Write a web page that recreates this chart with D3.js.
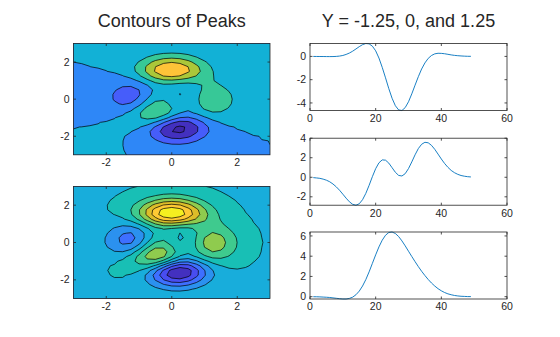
<!DOCTYPE html>
<html><head><meta charset="utf-8">
<script src="https://cdn.jsdelivr.net/npm/d3@7"></script>
<style>
html,body{margin:0;padding:0;background:#fff;}
svg{display:block;font-family:'Liberation Sans',Arial,sans-serif;}
</style></head>
<body><svg id="chart" width="560" height="337"></svg>
<script>
// ---- data: peaks surface sampled on a 25x25 grid (rows = y, cols = x) ----
const gridX = [-3,-2.75,-2.5,-2.25,-2,-1.75,-1.5,-1.25,-1,-0.75,-0.5,-0.25,0,0.25,0.5,0.75,1,1.25,1.5,1.75,2,2.25,2.5,2.75,3];
const gridY = [-3,-2.75,-2.5,-2.25,-2,-1.75,-1.5,-1.25,-1,-0.75,-0.5,-0.25,0,0.25,0.5,0.75,1,1.25,1.5,1.75,2,2.25,2.5,2.75,3];
const peaksZ = [
[6.7e-5,2.3e-4,6.8e-4,1.7e-3,3.4e-3,5.1e-3,4.2e-3,-5.0e-3,-3.0e-2,-7.5e-2,-0.14,-0.20,-0.24,-0.25,-0.22,-0.17,-0.11,-6.2e-2,-3.0e-2,-1.2e-2,-4.3e-3,-1.3e-3,-3.0e-4,-5.5e-5,-5.9e-6],
[1.6e-4,5.4e-4,1.6e-3,3.8e-3,7.4e-3,1.0e-2,4.5e-3,-2.4e-2,-9.6e-2,-0.22,-0.39,-0.56,-0.68,-0.69,-0.61,-0.46,-0.30,-0.17,-8.1e-2,-3.3e-2,-1.2e-2,-3.4e-3,-8.2e-4,-1.5e-4,-1.5e-5],
[3.2e-4,1.1e-3,3.2e-3,7.7e-3,1.5e-2,1.9e-2,2.8e-3,-6.7e-2,-0.23,-0.53,-0.92,-1.31,-1.57,-1.60,-1.41,-1.06,-0.69,-0.38,-0.18,-7.5e-2,-2.6e-2,-7.5e-3,-1.7e-3,-2.7e-4,-1.4e-5],
[5.5e-4,1.9e-3,5.8e-3,1.4e-2,2.7e-2,3.6e-2,7.4e-3,-0.12,-0.44,-0.99,-1.74,-2.51,-3.02,-3.10,-2.72,-2.05,-1.32,-0.73,-0.35,-0.14,-4.7e-2,-1.2e-2,-2.5e-3,-2.3e-4,6.6e-5],
[7.5e-4,2.8e-3,8.8e-3,2.3e-2,4.7e-2,7.0e-2,4.5e-2,-0.13,-0.59,-1.45,-2.64,-3.88,-4.76,-4.93,-4.35,-3.27,-2.10,-1.15,-0.53,-0.20,-6.2e-2,-1.3e-2,-1.2e-3,6.4e-4,4.2e-4],
[6.2e-4,2.9e-3,1.0e-2,3.0e-2,7.0e-2,0.13,0.15,2.3e-2,-0.46,-1.48,-3.00,-4.70,-5.97,-6.33,-5.64,-4.24,-2.69,-1.42,-0.61,-0.20,-4.4e-2,7.0e-4,6.3e-3,3.7e-3,1.4e-3],
[-4.5e-4,1.8e-4,5.3e-3,2.5e-2,7.9e-2,0.19,0.33,0.39,0.15,-0.68,-2.19,-4.08,-5.68,-6.33,-5.76,-4.32,-2.63,-1.27,-0.44,-6.6e-2,4.3e-2,4.5e-2,2.5e-2,1.1e-2,3.6e-3],
[-3.3e-3,-8.1e-3,-1.4e-2,-1.2e-2,3.0e-2,0.17,0.45,0.84,1.11,0.88,-0.14,-1.84,-3.60,-4.60,-4.40,-3.22,-1.74,-0.56,7.9e-2,0.27,0.23,0.13,6.1e-2,2.3e-2,7.4e-3],
[-8.8e-3,-2.4e-2,-5.6e-2,-0.10,-0.13,-4.3e-2,0.30,0.98,1.86,2.45,2.22,1.00,-0.72,-2.02,-2.22,-1.43,-0.27,0.58,0.88,0.77,0.50,0.26,0.11,4.2e-2,1.3e-2],
[-1.7e-2,-4.9e-2,-0.12,-0.25,-0.42,-0.51,-0.28,0.49,1.78,3.09,3.63,2.94,1.40,-4.8e-3,-0.41,0.20,1.18,1.79,1.78,1.35,0.82,0.41,0.18,6.4e-2,2.0e-2],
[-2.6e-2,-7.7e-2,-0.20,-0.44,-0.80,-1.16,-1.21,-0.60,0.80,2.49,3.55,3.30,2.00,0.70,0.39,1.14,2.20,2.76,2.56,1.87,1.12,0.56,0.24,8.6e-2,2.6e-2],
[-3.4e-2,-0.10,-0.27,-0.60,-1.14,-1.78,-2.16,-1.84,-0.57,1.23,2.56,2.63,1.58,0.53,0.48,1.50,2.76,3.37,3.09,2.25,1.34,0.67,0.28,0.10,3.1e-2],
[-3.7e-2,-0.11,-0.30,-0.69,-1.33,-2.14,-2.77,-2.71,-1.65,6.4e-2,1.48,1.75,0.98,0.19,0.37,1.57,2.94,3.58,3.27,2.37,1.41,0.70,0.30,0.11,3.3e-2],
[-3.5e-2,-0.11,-0.29,-0.67,-1.32,-2.16,-2.87,-2.98,-2.15,-0.65,0.68,1.06,0.52,-2.8e-2,0.28,1.47,2.76,3.36,3.06,2.22,1.32,0.66,0.28,1.0e-1,3.1e-2],
[-2.9e-2,-9.2e-2,-0.25,-0.57,-1.12,-1.85,-2.49,-2.64,-2.00,-0.76,0.39,0.80,0.46,9.0e-2,0.38,1.34,2.38,2.83,2.56,1.84,1.09,0.54,0.23,8.3e-2,2.6e-2],
[-2.2e-2,-6.7e-2,-0.18,-0.42,-0.82,-1.33,-1.76,-1.78,-1.16,-4.6e-2,1.04,1.55,1.42,1.12,1.17,1.65,2.17,2.32,1.99,1.40,0.82,0.40,0.17,6.1e-2,1.9e-2],
[-1.4e-2,-4.2e-2,-0.11,-0.25,-0.48,-0.74,-0.86,-0.60,0.23,1.51,2.79,3.59,3.69,3.34,2.93,2.66,2.43,2.08,1.58,1.04,0.58,0.28,0.11,4.1e-2,1.2e-2],
[-7.3e-3,-2.2e-2,-5.6e-2,-0.12,-0.20,-0.23,-4.7e-2,0.55,1.69,3.29,4.92,6.07,6.39,5.94,5.02,3.97,2.97,2.09,1.35,0.79,0.41,0.19,7.4e-2,2.5e-2,7.6e-3],
[-3.1e-3,-8.5e-3,-1.9e-2,-2.9e-2,-1.2e-2,0.11,0.48,1.27,2.61,4.37,6.20,7.54,8.00,7.48,6.25,4.72,3.25,2.05,1.19,0.62,0.29,0.12,4.6e-2,1.5e-2,4.4e-3],
[-8.6e-4,-1.6e-3,-4.4e-4,1.3e-2,7.0e-2,0.24,0.65,1.43,2.67,4.29,5.96,7.22,7.67,7.19,5.99,4.45,2.96,1.78,0.96,0.47,0.21,8.1e-2,2.8e-2,8.9e-3,2.5e-3],
[1.5e-5,8.4e-4,5.3e-3,2.3e-2,8.0e-2,0.23,0.55,1.16,2.10,3.31,4.56,5.51,5.86,5.50,4.57,3.37,2.21,1.29,0.68,0.32,0.13,5.0e-2,1.7e-2,5.0e-3,1.3e-3],
[2.1e-4,1.1e-3,5.0e-3,1.8e-2,5.7e-2,0.15,0.36,0.74,1.32,2.07,2.84,3.43,3.65,3.43,2.84,2.09,1.36,0.79,0.41,0.19,7.6e-2,2.7e-2,8.9e-3,2.6e-3,6.6e-4],
[1.6e-4,7.5e-4,3.0e-3,1.0e-2,3.2e-2,8.3e-2,0.19,0.39,0.69,1.07,1.47,1.77,1.88,1.77,1.47,1.08,0.70,0.40,0.20,9.3e-2,3.7e-2,1.3e-2,4.2e-3,1.2e-3,3.0e-4],
[8.1e-5,3.6e-4,1.4e-3,4.8e-3,1.4e-2,3.7e-2,8.4e-2,0.17,0.30,0.46,0.64,0.77,0.82,0.77,0.64,0.47,0.30,0.17,8.8e-2,3.9e-2,1.6e-2,5.5e-3,1.7e-3,4.8e-4,1.2e-4],
[3.2e-5,1.4e-4,5.4e-4,1.8e-3,5.3e-3,1.4e-2,3.1e-2,6.2e-2,0.11,0.17,0.23,0.28,0.30,0.28,0.23,0.17,0.11,6.3e-2,3.2e-2,1.4e-2,5.7e-3,2.0e-3,6.1e-4,1.7e-4,4.1e-5]
];
// contour levels
const topLevels = [-6,-4,-2,0,2,4,6,8];
const bottomLevels = [-5.2174,-3.8881,-2.5589,-1.2296,0.0997,1.4289,2.7582,4.0874,5.4167,6.7459];
// rows of the surface at Y = -1.25, 0 and 1.25 (49 samples each)
const rowYm125 = [-0.0033,-0.006,-0.0081,-0.01,-0.014,-0.015,-0.012,0.00,0.030,0.08,0.17,0.29,0.45,0.64,0.84,1.01,1.11,1.08,0.88,0.48,-0.14,-0.94,-1.84,-2.77,-3.60,-4.24,-4.60,-4.65,-4.40,-3.90,-3.22,-2.47,-1.74,-1.08,-0.56,-0.17,0.079,0.22,0.27,0.26,0.23,0.18,0.13,0.09,0.061,0.04,0.023,0.01,0.0074];
const rowY0 = [-0.037,-0.07,-0.11,-0.19,-0.30,-0.46,-0.69,-0.98,-1.33,-1.73,-2.14,-2.51,-2.77,-2.86,-2.71,-2.30,-1.65,-0.83,0.064,0.88,1.48,1.78,1.75,1.45,0.98,0.51,0.19,0.13,0.37,0.89,1.57,2.30,2.94,3.38,3.58,3.53,3.27,2.86,2.37,1.87,1.41,1.02,0.70,0.47,0.30,0.18,0.11,0.06,0.033];
const rowY125 = [-0.0073,-0.01,-0.022,-0.04,-0.056,-0.08,-0.12,-0.16,-0.20,-0.23,-0.23,-0.17,-0.047,0.19,0.55,1.05,1.69,2.45,3.29,4.13,4.92,5.58,6.07,6.34,6.39,6.24,5.94,5.51,5.02,4.49,3.97,3.46,2.97,2.51,2.09,1.70,1.35,1.05,0.79,0.58,0.41,0.28,0.19,0.12,0.074,0.04,0.025,0.01,0.0076];
// tick values and titles
const contourTicks = [-2,0,2];
const lineXTicks = [0,20,40,60];
const titles = ["Contours of Peaks","Y = -1.25, 0, and 1.25"];

// ---- styles ----
const topColors = ["#3e26a8","#4330bf","#465dfa","#2e87f7","#12b1d6","#37c897","#abc739","#fec338","#f9fb15"];
const bottomColors = ["#4330bf","#484df0","#3e6fff","#2b91ef","#18addb","#18bfb5","#3fca8e","#8fcb4e","#dcbd29","#fec934","#f5ef20"];
const axisColor = "#262626";
const lineColor = "#0072bd";
const tickFont = 10.5;

const svg = d3.select("#chart");

function fmt(d){ return String(d); }

function drawFrame(g, box, xs, ys, xTicks, yTicks){
  const [x0,x1] = xs.range(), [y1,y0] = ys.range();
  const tl = 2.5;
  const ax = g.append("g").attr("stroke", axisColor).attr("stroke-width", 0.8).attr("fill","none");
  ax.append("rect").attr("x", x0).attr("y", y0).attr("width", x1-x0).attr("height", y1-y0);
  xTicks.forEach(t => {
    const px = xs(t);
    ax.append("line").attr("x1",px).attr("x2",px).attr("y1",y1).attr("y2",y1-tl);
    ax.append("line").attr("x1",px).attr("x2",px).attr("y1",y0).attr("y2",y0+tl);
    g.append("text").attr("x",px).attr("y",y1+4).attr("dy","0.71em").attr("text-anchor","middle")
      .attr("font-size",tickFont).attr("fill",axisColor).text(fmt(t));
  });
  yTicks.forEach(t => {
    const py = ys(t);
    ax.append("line").attr("x1",x0).attr("x2",x0+tl).attr("y1",py).attr("y2",py);
    ax.append("line").attr("x1",x1).attr("x2",x1-tl).attr("y1",py).attr("y2",py);
    g.append("text").attr("x",x0-4).attr("y",py).attr("dy","0.34em").attr("text-anchor","end")
      .attr("font-size",tickFont).attr("fill",axisColor).text(fmt(t));
  });
}

let clipId = 0;
function drawContour(box, levels, colors){
  const g = svg.append("g");
  const xs = d3.scaleLinear().domain([-3,3]).range([box.x0, box.x1]);
  const ys = d3.scaleLinear().domain([-3,3]).range([box.y1, box.y0]);
  const n = gridX.length, m = gridY.length;
  const dx = gridX[1]-gridX[0], dy = gridY[1]-gridY[0];
  const values = peaksZ.flat();
  const proj = d3.geoTransform({point(px,py){
    this.stream.point(xs(gridX[0] + (px-0.5)*dx), ys(gridY[0] + (py-0.5)*dy));
  }});
  const path = d3.geoPath(proj);
  const contours = d3.contours().size([n,m]).thresholds(levels)(values);
  const id = "clip" + (clipId++);
  svg.append("clipPath").attr("id", id).append("rect")
    .attr("x", box.x0).attr("y", box.y0).attr("width", box.x1-box.x0).attr("height", box.y1-box.y0);
  const inner = g.append("g").attr("clip-path", `url(#${id})`);
  inner.append("rect").attr("x", box.x0).attr("y", box.y0).attr("width", box.x1-box.x0).attr("height", box.y1-box.y0)
    .attr("fill", colors[0]);
  contours.forEach((c,i) => {
    inner.append("path").attr("d", path(c)).attr("fill", colors[i+1]).attr("stroke","none");
  });
  contours.forEach(c => {
    inner.append("path").attr("d", path(c)).attr("fill", "none").attr("stroke", "#000").attr("stroke-width", 0.7);
  });
  drawFrame(g, box, xs, ys, contourTicks, contourTicks);
}

function yLimits(vals){
  let [lo, hi] = d3.extent(vals);
  const step = d3.tickStep(lo, hi, 4), span = hi - lo;
  const lo2 = Math.floor(lo/step)*step, hi2 = Math.ceil(hi/step)*step;
  if (lo - lo2 <= 0.1*span) lo = lo2;
  if (hi2 - hi <= 0.1*span) hi = hi2;
  return [lo, hi, step];
}

function drawLine(box, vals){
  const g = svg.append("g");
  const xs = d3.scaleLinear().domain([0,60]).range([box.x0, box.x1]);
  const [lo, hi, step] = yLimits(vals);
  const ys = d3.scaleLinear().domain([lo,hi]).range([box.y1, box.y0]);
  const yTicks = d3.range(Math.ceil(lo/step)*step, hi + 1e-9, step).map(v => Math.round(v*1e6)/1e6);
  const line = d3.line().x((d,i) => xs(i+1)).y(d => ys(d));
  g.append("path").datum(vals).attr("d", line).attr("fill","none").attr("stroke", lineColor).attr("stroke-width", 0.9);
  drawFrame(g, box, xs, ys, lineXTicks, yTicks);
}

// ---- layout ----
const L = {x0: 73.5, x1: 270};
drawContour({...L, y0: 43.5, y1: 154.8}, topLevels, topColors);
drawContour({...L, y0: 186.5, y1: 298.5}, bottomLevels, bottomColors);
const R = {x0: 310, x1: 507};
[[rowYm125, 43.5], [rowY0, 138.2], [rowY125, 232]].forEach(([vals, top]) => {
  drawLine({...R, y0: top, y1: top + 67}, vals);
});

svg.append("text").attr("x", (L.x0+L.x1)/2).attr("y", 27).attr("text-anchor","middle")
  .attr("font-size", 18).attr("fill", axisColor).text(titles[0]);
svg.append("text").attr("x", (R.x0+R.x1)/2).attr("y", 27).attr("text-anchor","middle")
  .attr("font-size", 18).attr("fill", axisColor).text(titles[1]);
</script>
</body></html>
